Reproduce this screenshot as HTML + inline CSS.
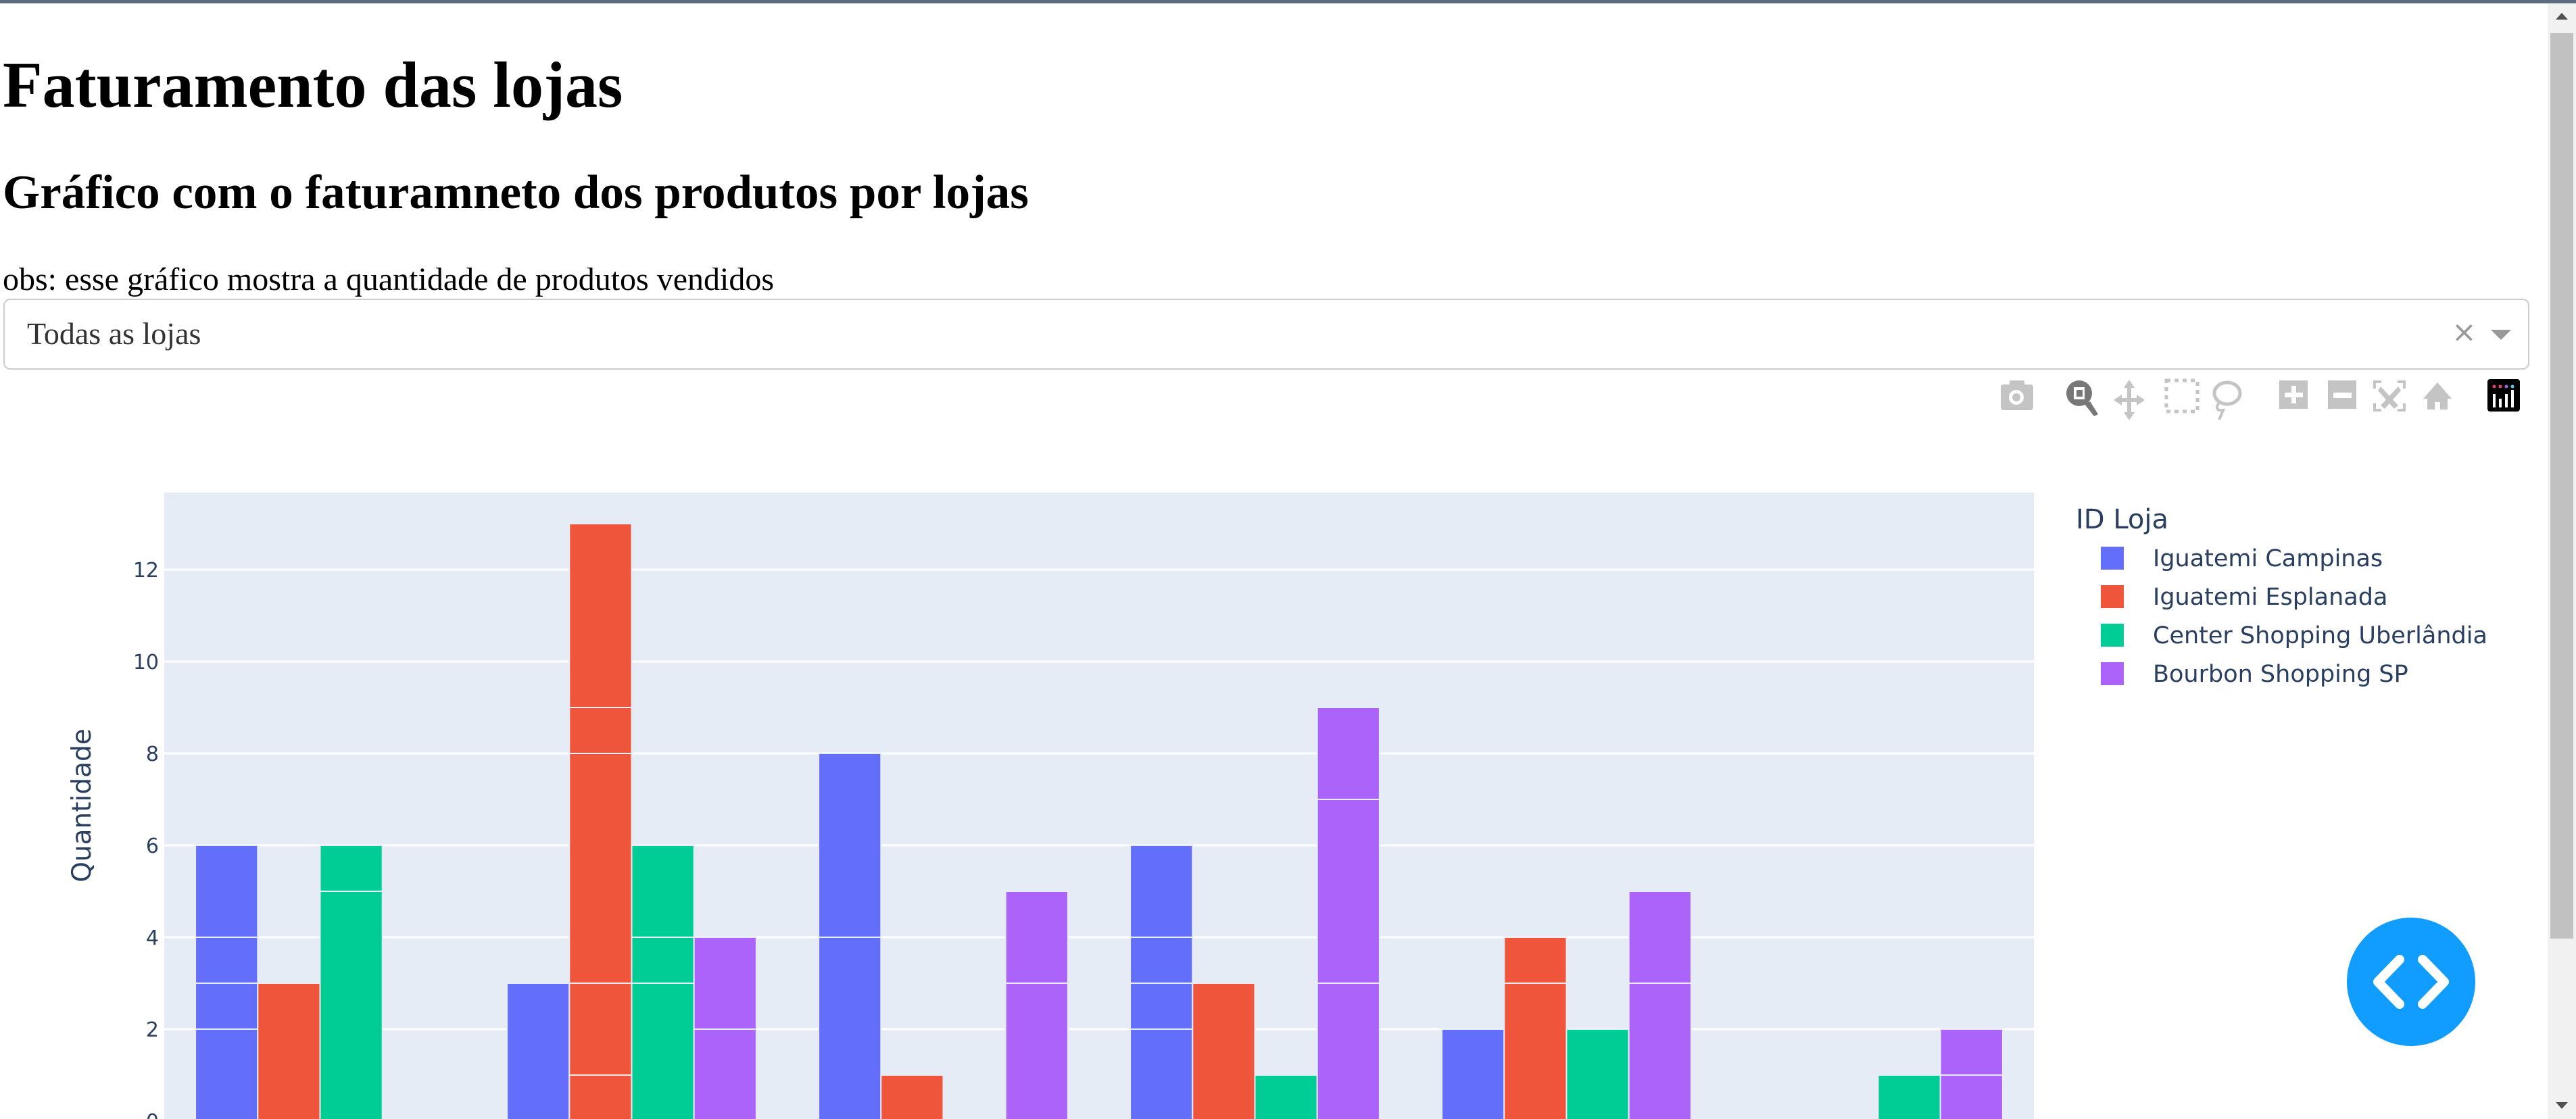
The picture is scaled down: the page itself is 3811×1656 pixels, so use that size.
<!DOCTYPE html>
<html><head><meta charset="utf-8"><style>
html,body{margin:0;padding:0;width:3811px;height:1656px;overflow:hidden;background:#fff;font-family:"Liberation Serif",serif;}
.abs{position:absolute;}
</style></head><body>
<div class="abs" style="left:0;top:0;width:3811px;height:5px;background:#5b6b80"></div>
<div class="abs" style="left:4px;top:76px;font-size:96px;font-weight:bold;line-height:100px;white-space:nowrap">Faturamento das lojas</div>
<div class="abs" style="left:4px;top:245px;font-size:71px;font-weight:bold;line-height:80px;white-space:nowrap">Gráfico com o faturamneto dos produtos por lojas</div>
<div class="abs" style="left:4px;top:386px;font-size:48px;line-height:55px;white-space:nowrap">obs: esse gráfico mostra a quantidade de produtos vendidos</div>
<div class="abs" style="left:5px;top:442px;width:3733px;height:101px;border:2px solid #ccc;border-radius:10px;background:#fff">
  <div class="abs" style="left:33px;top:25px;font-size:46px;line-height:50px;color:#333;white-space:nowrap">Todas as lojas</div>
  <div class="abs" style="left:3620px;top:22px;font-size:44px;color:#999;font-family:'DejaVu Sans',sans-serif">×</div>
  <div class="abs" style="left:3678px;top:44px;width:0;height:0;border-left:15px solid transparent;border-right:15px solid transparent;border-top:15px solid #999"></div>
</div>
<div class="abs" style="left:3769px;top:5px;width:42px;height:1651px;background:#f1f1f1">
  <div class="abs" style="left:4px;top:44px;width:34px;height:1340px;background:#c1c1c1"></div>
  <div class="abs" style="left:12px;top:14px;width:0;height:0;border-left:9px solid transparent;border-right:9px solid transparent;border-bottom:10px solid #505050"></div>
  <div class="abs" style="left:12px;top:1626px;width:0;height:0;border-left:9px solid transparent;border-right:9px solid transparent;border-top:10px solid #505050"></div>
</div>
<svg class="abs" style="left:0;top:0" width="3811" height="1656">
  <g fill="#c4c4c4">
    <g><rect x="2960" y="569" width="48" height="38" rx="4"/><rect x="2973" y="563" width="22" height="10" rx="2"/><circle cx="2983" cy="588" r="11" fill="#fff"/><circle cx="2983" cy="588" r="6"/></g>
    <g fill="#777"><circle cx="3076" cy="582" r="19"/><rect x="3068" y="573" width="16" height="18" fill="#fff"/><rect x="3072" y="577" width="9" height="10"/><polygon points="3084,598 3092,594 3104,613 3098,616"/></g>
    <g><rect x="3147" y="572" width="6" height="40"/><rect x="3130" y="589" width="40" height="6"/><polygon points="3150,562 3142,574 3158,574"/><polygon points="3150,622 3142,610 3158,610"/><polygon points="3127,592 3139,584 3139,600"/><polygon points="3173,592 3161,584 3161,600"/></g>
    <g><rect x="3205" y="563" width="46" height="46" fill="none" stroke="#c4c4c4" stroke-width="5" stroke-dasharray="6,6"/></g>
    <g><ellipse cx="3295" cy="582" rx="19" ry="16" fill="none" stroke="#c4c4c4" stroke-width="5"/><path d="M3283 595 q-8 14 6 12 l-6 14" fill="none" stroke="#c4c4c4" stroke-width="4"/></g>
    <g><rect x="3372" y="563" width="42" height="42"/><rect x="3390" y="571" width="7" height="26" fill="#fff"/><rect x="3380" y="581" width="27" height="7" fill="#fff"/></g>
    <g><rect x="3444" y="563" width="42" height="42"/><rect x="3452" y="581" width="27" height="8" fill="#fff"/></g>
    <g><path d="M3513 575 v-10 h10 M3547 565 h10 v10 M3557 597 v10 h-10 M3523 607 h-10 v-10" fill="none" stroke="#c4c4c4" stroke-width="4"/><polygon points="3522,572 3548,600 3542,605 3518,578"/><polygon points="3548,572 3522,600 3528,605 3552,578"/></g>
    <g><polygon points="3606,566 3585,590 3591,590 3591,606 3602,606 3602,595 3610,595 3610,606 3621,606 3621,590 3627,590"/></g>
    <g><rect x="3680" y="561" width="48" height="48" rx="4" fill="#000"/><g fill="#fff"><rect x="3688" y="583" width="4" height="20"/><rect x="3697" y="590" width="4" height="13"/><rect x="3706" y="583" width="4" height="20"/><rect x="3715" y="577" width="4" height="26"/></g><circle cx="3690" cy="572" r="2.5" fill="#e0407a"/><circle cx="3699" cy="572" r="2.5" fill="#e0407a"/><circle cx="3708" cy="572" r="2.5" fill="#9a6ad8"/><circle cx="3717" cy="572" r="2.5" fill="#5bc8e8"/></g>
  </g>
  <rect x="243" y="729" width="2766" height="930" fill="#e5ecf6"/>
  <g id="grid"></g>
  <g id="bars"></g>
  <g id="yticks" font-family="'DejaVu Sans',sans-serif" font-size="30" fill="#2a3f5f" text-anchor="end"></g>
  <text transform="translate(134,1192) rotate(-90)" text-anchor="middle" font-family="'DejaVu Sans',sans-serif" font-size="39" fill="#2a3f5f">Quantidade</text>
  <g id="legend" font-family="'DejaVu Sans',sans-serif" fill="#2a3f5f">
    <text x="3071" y="782" font-size="40">ID Loja</text>
  </g>
  <g>
    <circle cx="3567" cy="1453" r="95" fill="#119dff"/>
    <path d="M3550 1420 l-32 33 l32 33 M3584 1420 l32 33 l-32 33" fill="none" stroke="#fff" stroke-width="14" stroke-linecap="round" stroke-linejoin="round"/>
  </g>
</svg>
<script>
const categories = ["Produto 1","Produto 2","Produto 3","Produto 4","Produto 5","Produto 6"];
const stores = ["Iguatemi Campinas","Iguatemi Esplanada","Center Shopping Uberlândia","Bourbon Shopping SP"];
const colors = ["#636efa","#EF553B","#00cc96","#ab63fa"];
// segments per store per category (stacked rows)
const campinas = [[2,1,1,2],[3],[4,4],[2,1,1,2],[2],[]];
const esplanada = [[3],[1,2,5,1,4],[1],[3],[3,1],[]];
const uberlandia = [[5,1],[3,1,2],[],[1],[2],[1]];
const bourbon = [[],[2,2],[3,2],[3,4,2],[3,2],[1,1]];
const yTicks = [0,2,4,6,8,10,12];
const seriesData = [campinas, esplanada, uberlandia, bourbon];

const NS="http://www.w3.org/2000/svg";
const X0=243, W=2766, Y0=1659, UNIT=68;
const band=W/categories.length;
const barW=band*0.8/stores.length;
function yPos(v){return Y0-v*UNIT;}
function xPos(ci,si){return X0+ci*band+band*0.1+si*barW;}

const grid=document.getElementById('grid');
const yt=document.getElementById('yticks');
yTicks.forEach(t=>{
  const l=document.createElementNS(NS,'line');
  l.setAttribute('x1',X0);l.setAttribute('x2',X0+W);
  l.setAttribute('y1',yPos(t));l.setAttribute('y2',yPos(t));
  l.setAttribute('stroke','#fff');l.setAttribute('stroke-width',3);
  
  
  grid.appendChild(l);
  const tx=document.createElementNS(NS,'text');
  tx.setAttribute('x',X0-8);tx.setAttribute('y',yPos(t)+11);
  tx.textContent=t;
  
  
  yt.appendChild(tx);
});

const bars=document.getElementById('bars');
seriesData.forEach((ser,si)=>{
  ser.forEach((segs,ci)=>{
    let base=0;
    segs.forEach(v=>{
      const r=document.createElementNS(NS,'rect');
      r.setAttribute('x',xPos(ci,si));r.setAttribute('width',barW);
      r.setAttribute('y',yPos(base+v));r.setAttribute('height',v*UNIT);
      r.setAttribute('fill',colors[si]);r.setAttribute('stroke','#e5ecf6');r.setAttribute('stroke-width',2);
      
      
      bars.appendChild(r);
      base+=v;
    });
  });
});

const lg=document.getElementById('legend');
stores.forEach((s,i)=>{
  const y=826+i*57;
  const r=document.createElementNS(NS,'rect');
  r.setAttribute('x',3108);r.setAttribute('y',y-17);r.setAttribute('width',34);r.setAttribute('height',34);
  r.setAttribute('fill',colors[i]);
  
  
  lg.appendChild(r);
  const t=document.createElementNS(NS,'text');
  t.setAttribute('x',3185);t.setAttribute('y',y+12);t.setAttribute('font-size',35);
  t.textContent=s;
  
  
  lg.appendChild(t);
});
</script>
</body></html>
